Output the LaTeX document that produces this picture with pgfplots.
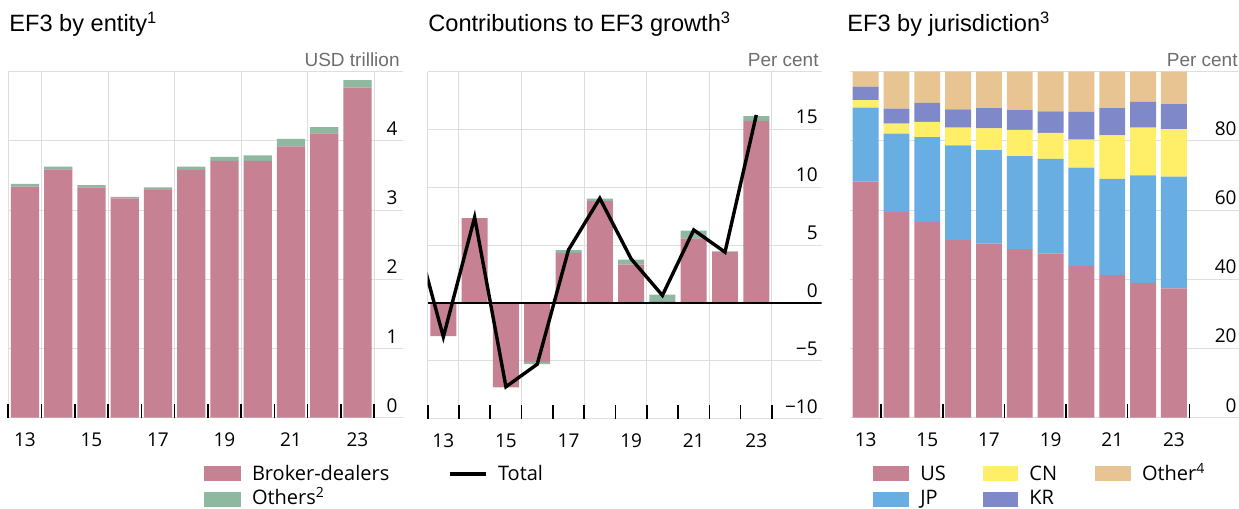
\documentclass[border=0pt]{standalone}
\usepackage{fontspec}
\setmainfont{Open Sans}
\newfontfamily\arial{Liberation Sans}
\usepackage{pgfplots}
\usepackage{pgfplotstable}
\pgfplotsset{compat=1.18}
\definecolor{bd}{RGB}{198,129,147}
\definecolor{oth}{RGB}{142,185,160}
\definecolor{jp}{RGB}{104,174,226}
\definecolor{cn}{RGB}{255,238,104}
\definecolor{kr}{RGB}{127,137,201}
\definecolor{ot}{RGB}{231,196,145}
\definecolor{gridc}{RGB}{222,222,222}
\definecolor{unitc}{RGB}{110,110,110}

\pgfplotstableread{
yr bd oth
13 3.34 0.04
14 3.59 0.04
15 3.33 0.03
16 3.17 0.02
17 3.29 0.04
18 3.58 0.05
19 3.71 0.06
20 3.71 0.08
21 3.92 0.11
22 4.11 0.09
23 4.77 0.11
}\entity

\pgfplotstableread{
yr bd oth
13 -2.87 0
14 7.33 0
15 -7.30 0
16 -5.09 -0.20
17 4.34 0.23
18 8.82 0.20
19 3.33 0.43
20 0.17 0.55
21 5.60 0.66
22 4.43 0.03
23 15.75 0.40
}\contrib

\pgfplotstableread{
yr total
12 7.10
13 -2.93
14 7.41
15 -7.24
16 -5.29
17 4.60
18 9.05
19 3.82
20 0.66
21 6.32
22 4.40
23 16.26
}\totalg

\pgfplotstableread{
yr us jp cn kr ot
13 68.2 21.4 2.2 3.9 4.3
14 59.5 22.6 2.9 4.3 10.7
15 56.6 24.5 4.4 5.5 9.0
16 51.3 27.4 5.1 5.3 10.9
17 50.3 27.0 6.3 5.9 10.5
18 48.7 26.9 7.6 5.7 11.1
19 47.5 27.3 7.5 6.2 11.5
20 43.9 28.4 8.1 8.0 11.6
21 41.2 27.8 12.6 7.9 10.5
22 39.0 31.0 13.8 7.5 8.7
23 37.4 32.3 13.7 7.2 9.4
}\juris

\pgfplotsset{
  panel/.style={
    scale only axis, anchor=south west,
    axis line style={draw=none},
    tick align=inside, xtick pos=bottom, ytick pos=right, yticklabel pos=right,
    major tick length=0pt, minor tick length=7pt,
    minor tick style={black, line width=0.8pt},
    ymajorgrids, major grid style={gridc, line width=0.5pt},
    tick label style={font=\fontsize{9.5}{11}\selectfont},
    yticklabel style={anchor=south east, inner sep=0pt, yshift=2.5pt},
    xticklabel style={anchor=north, inner sep=0pt, yshift=-7.5pt},
  },
}

\begin{document}
\begin{tikzpicture}
\useasboundingbox (0,0) rectangle (619.5pt,254.5pt);

% Panel 1
\begin{axis}[panel, at={(4.15pt,45.65pt)}, width=197.35pt, height=173pt,
  xmin=12.5, xmax=24.37, ymin=0, ymax=5,
  xtick={12.5,13.5,15.5,17.5,19.5,21.5,23.5}, xticklabels={}, xmajorgrids,
  minor xtick={12.5,13.5,...,23.5},
  extra x ticks={13,15,17,19,21,23}, extra x tick labels={13,15,17,19,21,23},
  extra x tick style={grid=none},
  ytick={0,1,2,3,4,5}, yticklabels={0,1,2,3,4,},
  yticklabel style={xshift=-2.5pt},
  ybar stacked, bar width=0.85]
\addplot[fill=bd, draw=none] table[x=yr, y=bd] {\entity};
\addplot[fill=oth, draw=none] table[x=yr, y=oth] {\entity};
\end{axis}

% Panel 2 bars
\begin{axis}[panel, at={(213.85pt,45.15pt)}, width=197pt, height=173.5pt,
  xmin=12.5, xmax=25.09, ymin=-10, ymax=20,
  xtick={12.5,13.5,15.5,17.5,19.5,21.5,23.5}, xticklabels={}, xmajorgrids,
  minor xtick={12.5,13.5,...,23.5},
  extra x ticks={13,15,17,19,21,23}, extra x tick labels={13,15,17,19,21,23},
  extra x tick style={grid=none},
  ytick={-10,-5,0,5,10,15,20}, yticklabels={−10,−5,0,5,10,15,},
  yticklabel style={xshift=-1.8pt},
  ybar stacked, bar width=0.83]
\addplot[fill=bd, draw=none] table[x=yr, y=bd] {\contrib};
\addplot[fill=oth, draw=none] table[x=yr, y=oth] {\contrib};
\end{axis}
% Panel 2 line
\begin{axis}[scale only axis, anchor=south west, at={(213.85pt,45.15pt)}, width=197pt, height=173.5pt,
  xmin=12.5, xmax=25.09, ymin=-10, ymax=20, hide axis]
\addplot[black, line width=0.7pt] coordinates {(12.5,0) (25.09,0)};
\addplot[black, line width=1.7pt] table[x=yr, y=total] {\totalg};
\end{axis}

% Panel 3
\begin{axis}[panel, at={(425.1pt,45.65pt)}, width=194.4pt, height=173pt,
  xmin=12.5, xmax=25.11, ymin=0, ymax=100,
  xtick={13,15,17,19,21,23}, xticklabels={13,15,17,19,21,23},
  minor xtick={13.5,15.5,17.5,19.5,21.5,23.5},
  ytick={0,20,40,60,80,100}, yticklabels={0,20,40,60,80,},
  yticklabel style={xshift=-1pt},
  ybar stacked, bar width=0.84]
\addplot[fill=bd, draw=none] table[x=yr, y=us] {\juris};
\addplot[fill=jp, draw=none] table[x=yr, y=jp] {\juris};
\addplot[fill=cn, draw=none] table[x=yr, y=cn] {\juris};
\addplot[fill=kr, draw=none] table[x=yr, y=kr] {\juris};
\addplot[fill=ot, draw=none] table[x=yr, y=ot] {\juris};
\end{axis}

% Titles
\begin{scope}[every node/.style={inner sep=0pt}]
\node[anchor=base west, font=\arial\fontsize{11.8}{14}\selectfont] at (4.5pt,238.5pt) {EF3 by entity\textsuperscript{1}};
\node[anchor=base west, font=\arial\fontsize{11.8}{14}\selectfont] at (214pt,238.5pt) {Contributions to EF3 growth\textsuperscript{3}};
\node[anchor=base west, font=\arial\fontsize{11.8}{14}\selectfont] at (423.5pt,238.5pt) {EF3 by jurisdiction\textsuperscript{3}};
\node[anchor=base east, text=unitc, font=\arial\fontsize{9.5}{11}\selectfont] at (200pt,221.2pt) {USD trillion};
\node[anchor=base east, text=unitc, font=\arial\fontsize{9.5}{11}\selectfont] at (409.5pt,221.2pt) {Per cent};
\node[anchor=base east, text=unitc, font=\arial\fontsize{9.5}{11}\selectfont] at (619pt,221.2pt) {Per cent};

% Legends
\fill[bd] (102pt,13.8pt) rectangle (120.5pt,21.3pt);
\node[anchor=base west, font=\fontsize{10}{12}\selectfont] at (125.8pt,14pt) {Broker-dealers};
\fill[oth] (102pt,1pt) rectangle (120.5pt,8.5pt);
\node[anchor=base west, font=\fontsize{10}{12}\selectfont] at (125.8pt,2.3pt) {Others\textsuperscript{2}};

\draw[black, line width=1.7pt] (225pt,17.5pt) -- (243pt,17.5pt);
\node[anchor=base west, font=\fontsize{10}{12}\selectfont] at (248.8pt,14pt) {Total};

\fill[bd] (436.5pt,13.8pt) rectangle (454.5pt,21.3pt);
\node[anchor=base west, font=\fontsize{10}{12}\selectfont] at (460pt,14pt) {US};
\fill[cn] (491.3pt,13.8pt) rectangle (509pt,21.3pt);
\node[anchor=base west, font=\fontsize{10}{12}\selectfont] at (514.5pt,14pt) {CN};
\fill[ot] (547.5pt,13.8pt) rectangle (565.5pt,21.3pt);
\node[anchor=base west, font=\fontsize{10}{12}\selectfont] at (570.8pt,14pt) {Other\textsuperscript{4}};
\fill[jp] (436.5pt,1pt) rectangle (454.5pt,8.5pt);
\node[anchor=base west, font=\fontsize{10}{12}\selectfont] at (460pt,2.3pt) {JP};
\fill[kr] (491.3pt,1pt) rectangle (509pt,8.5pt);
\node[anchor=base west, font=\fontsize{10}{12}\selectfont] at (514.5pt,2.3pt) {KR};
\end{scope}
\end{tikzpicture}
\end{document}
